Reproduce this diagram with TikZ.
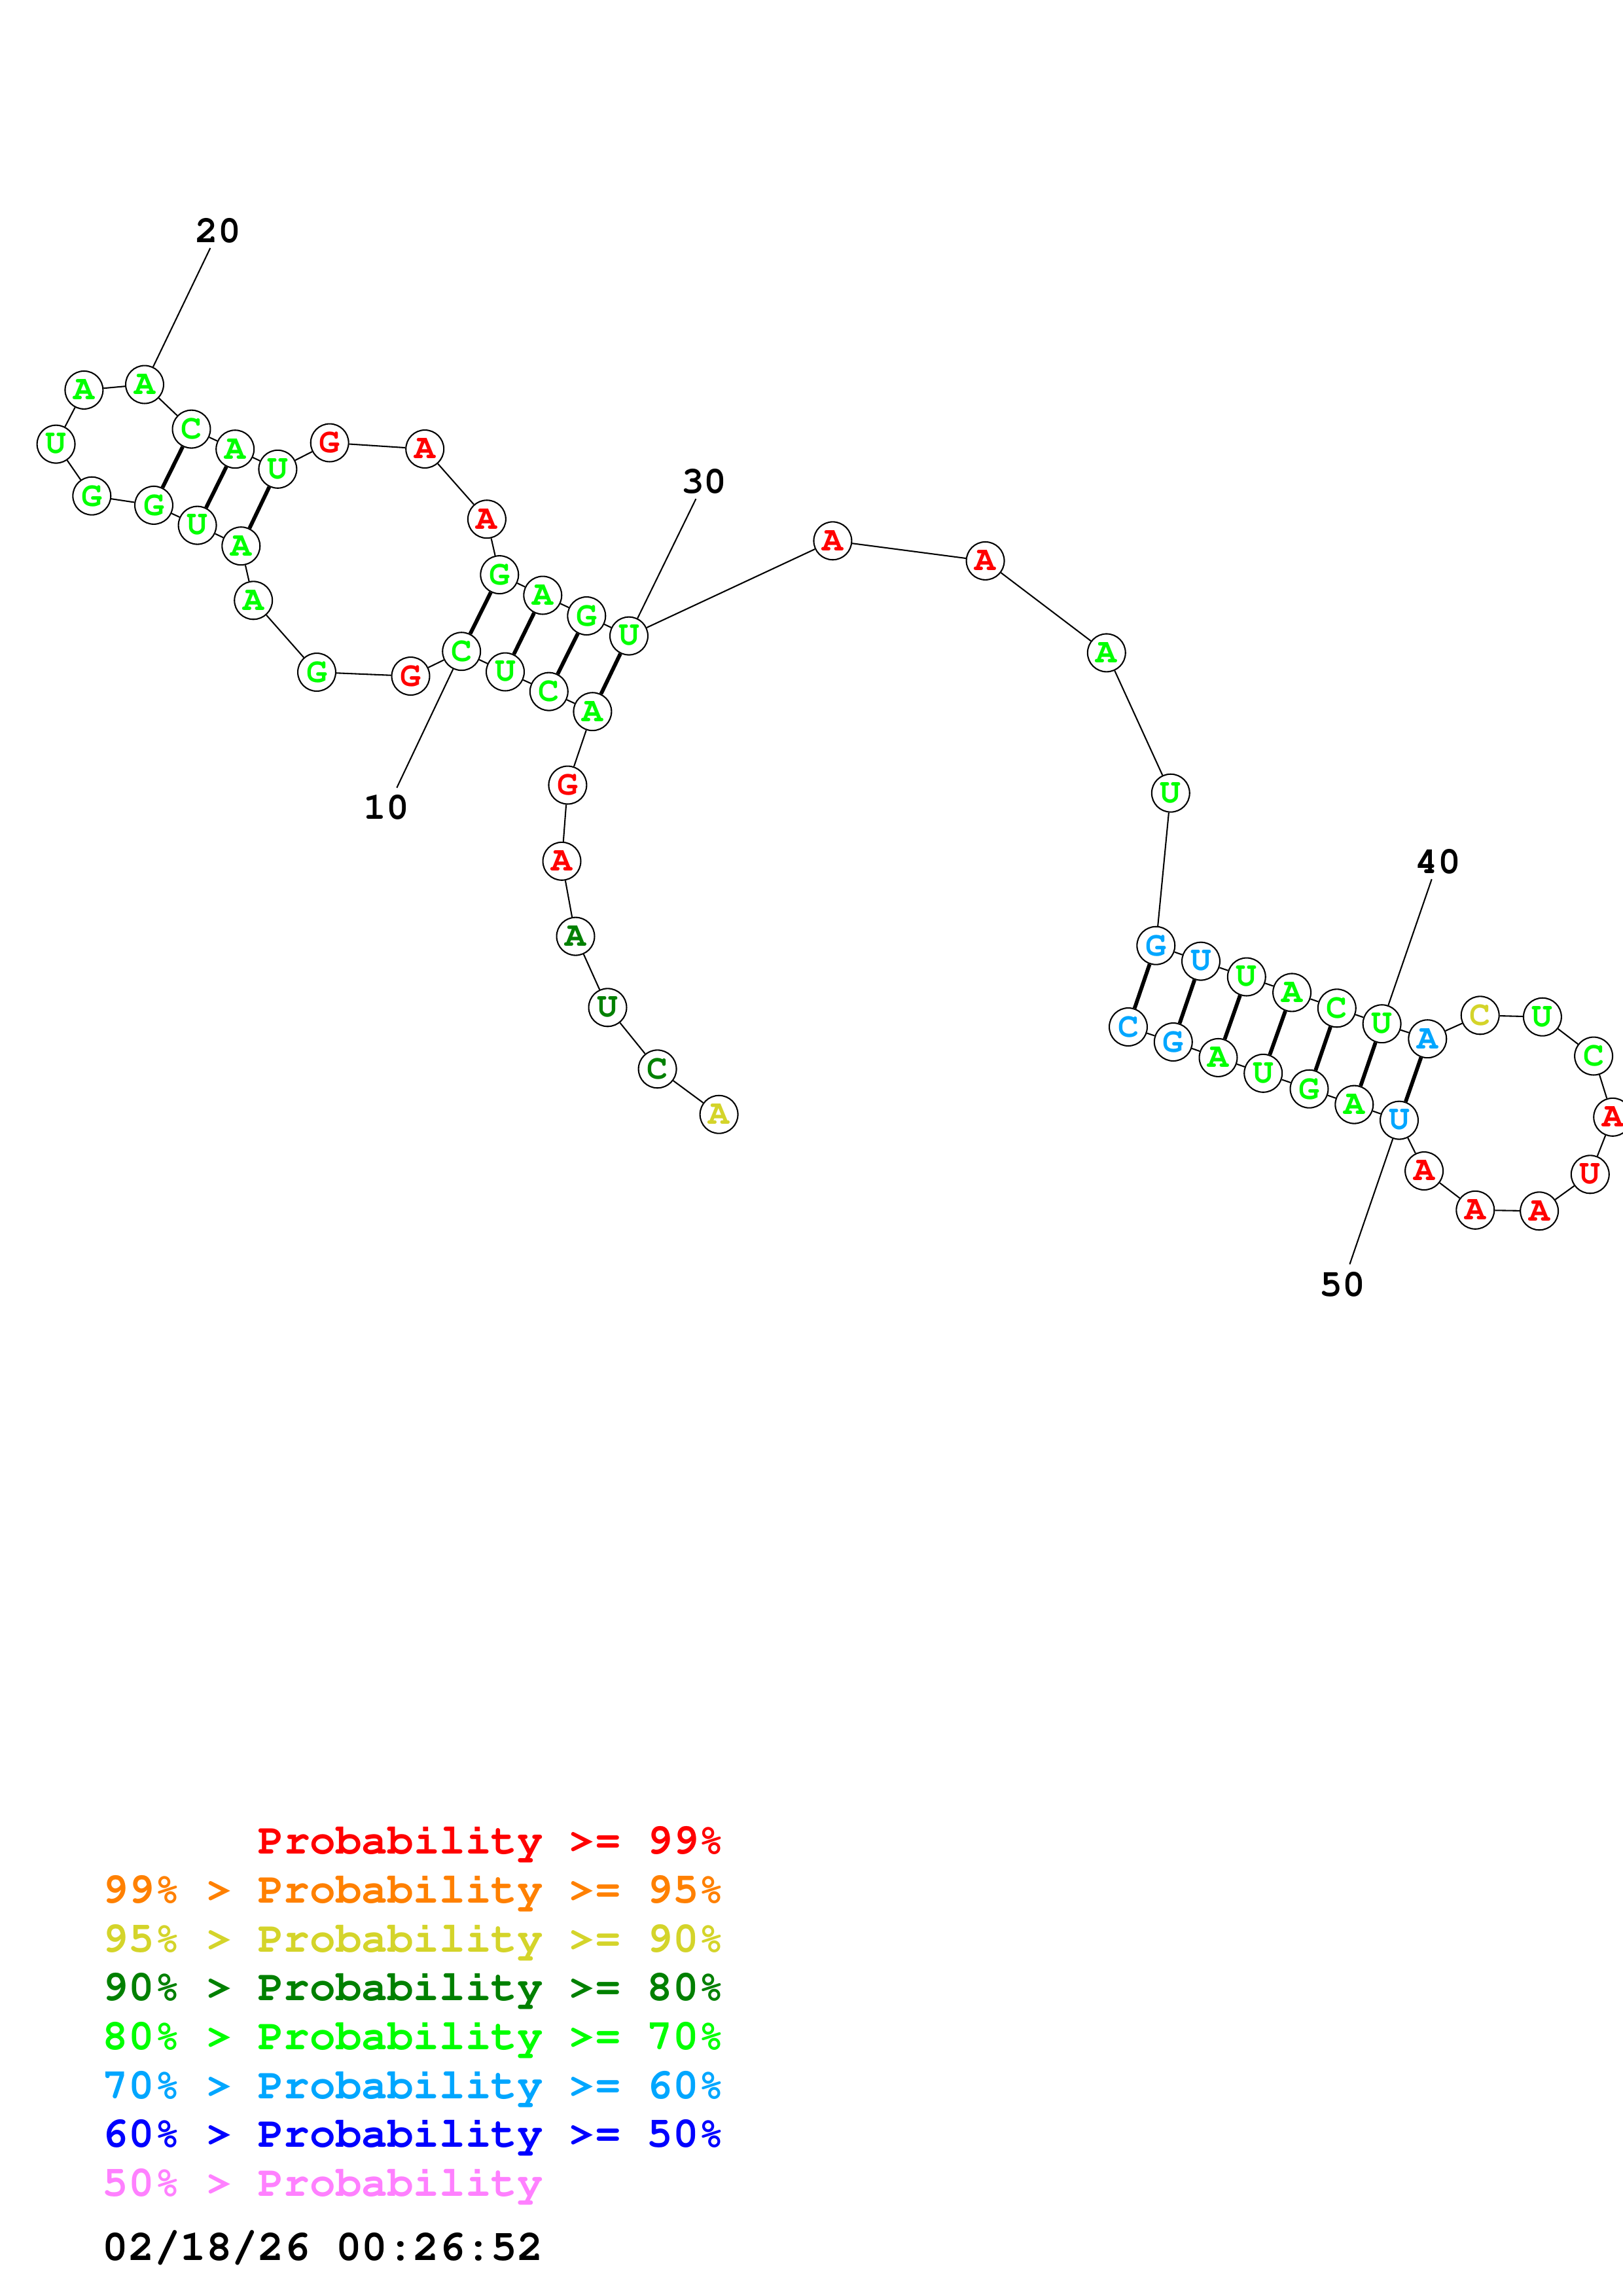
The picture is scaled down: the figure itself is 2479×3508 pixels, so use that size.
\documentclass[tikz,border=0pt]{standalone}
\usepackage[T1]{fontenc}
\renewcommand{\ttdefault}{pcr}
\definecolor{pRed}{RGB}{255,0,0}
\definecolor{pOrange}{RGB}{255,128,0}
\definecolor{pYellow}{RGB}{212,212,42}
\definecolor{pDkGreen}{RGB}{0,128,0}
\definecolor{pGreen}{RGB}{0,255,0}
\definecolor{pLtBlue}{RGB}{0,166,255}
\definecolor{pBlue}{RGB}{0,0,255}
\definecolor{pPink}{RGB}{255,128,255}
\tikzset{
  nt/.style={circle, draw, fill=white, line width=0.5bp, minimum size=13.9bp,
    inner sep=0pt, font=\ttfamily\bfseries\fontsize{12.8}{13}\selectfont},
  bb/.style={line width=0.5bp},
  pair/.style={line width=1.4bp},
  num/.style={inner sep=0pt, font=\ttfamily\bfseries\fontsize{14}{15}\selectfont},
  key/.style={anchor=base west, inner sep=0pt,
    font=\ttfamily\bfseries\fontsize{15.9}{17}\selectfont}
}

\begin{document}
\begin{tikzpicture}[x=0.24bp, y=-0.24bp]
    \useasboundingbox (0,0) rectangle (2479,3508);
    \foreach \i/\x/\y/\b/\c in {
      1/1098.6/1702.7/A/pYellow, 2/1004.6/1633.3/C/pDkGreen,
      3/928.5/1539.3/U/pDkGreen, 4/879.5/1430.6/A/pDkGreen,
      5/858.5/1315.8/A/pRed, 6/867.4/1199.5/G/pRed,
      7/905.4/1087.2/A/pGreen, 8/838.8/1056.6/C/pGreen,
      9/772/1026.5/U/pGreen, 10/705.2/995.2/C/pGreen,
      11/627.5/1033/G/pRed, 12/484/1027/G/pGreen,
      13/387.2/917.3/A/pGreen, 14/368.3/834.2/A/pGreen,
      15/301.6/802.6/U/pGreen, 16/235/771.9/G/pGreen,
      17/140.3/757.7/G/pGreen, 18/85.6/678.6/U/pGreen,
      19/128.4/595.9/A/pGreen, 20/221/587.5/A/pGreen,
      21/292.5/655.6/C/pGreen, 22/359.2/686.2/A/pGreen,
      23/424.4/716.8/U/pGreen, 24/503.7/676.5/G/pRed,
      25/649.2/686/A/pRed, 26/743.9/793.2/A/pRed,
      27/763.3/878.1/G/pGreen, 28/829.3/909.5/A/pGreen,
      29/896.3/941/G/pGreen, 30/961/971.6/U/pGreen,
      31/1272.4/826.3/A/pRed, 32/1505.6/856.9/A/pRed,
      33/1690.8/997.4/A/pGreen, 34/1788.8/1211.7/U/pGreen,
      35/1766.3/1444.7/G/pLtBlue, 36/1835/1468.6/U/pLtBlue,
      37/1904.8/1492.5/U/pGreen, 38/1974.1/1516.4/A/pGreen,
      39/2042.8/1540.3/C/pGreen, 40/2111.6/1564.2/U/pGreen,
      41/2181.3/1587.2/A/pLtBlue, 42/2261.7/1551.3/C/pYellow,
      43/2356.9/1553.7/U/pGreen, 44/2435.1/1613.5/C/pGreen,
      45/2464.2/1706.8/A/pRed, 46/2429.8/1794.3/U/pRed,
      47/2352.1/1850.3/A/pRed, 48/2254.3/1848.8/A/pRed,
      49/2176.1/1789/A/pRed, 50/2138/1711.6/U/pLtBlue,
      51/2069.3/1687.6/A/pGreen, 52/2000.5/1663.7/G/pGreen,
      53/1930.2/1639.8/U/pGreen, 54/1861.5/1615.9/A/pGreen,
      55/1792.8/1592/G/pLtBlue, 56/1724/1569/C/pLtBlue}
      \node[nt, text=\c] (n\i) at (\x,\y) {\b};
    \foreach \i [evaluate=\i as \j using int(\i+1)] in {1,...,55}
      \draw[bb] (n\i) -- (n\j);
    \foreach \a/\b in {7/30, 8/29, 9/28, 10/27, 14/23, 15/22, 16/21,
      35/56, 36/55, 37/54, 38/53, 39/52, 40/51, 41/50}
      \draw[pair] (n\a) -- (n\b);
    \foreach \k/\tx/\ty/\lx/\ly in {10/606.3/1203.6/590.6/1234.2,
      20/321.3/379/333.3/352.3, 30/1063.4/762.2/1075.9/735.7,
      40/2187.7/1343.3/2197.2/1317, 50/2062.4/1931.6/2051.8/1962.7} {
      \coordinate (t\k) at (\tx,\ty);
      \node[num] (l\k) at (\lx,\ly) {\k};
      \draw[bb] (n\k) -- (t\k);
    }
    \node[key, text=pRed] (k1) at (393.6,2832.6) {Probability >= 99\%};
    \foreach \r/\c/\t in {2/pOrange/99\% > Probability >= 95\%,
      3/pYellow/95\% > Probability >= 90\%,
      4/pDkGreen/90\% > Probability >= 80\%,
      5/pGreen/80\% > Probability >= 70\%,
      6/pLtBlue/70\% > Probability >= 60\%,
      7/pBlue/60\% > Probability >= 50\%,
      8/pPink/50\% > Probability}
      \node[key, text=\c] (k\r) at (156,2832.6+74.7*\r-74.7) {\t};
    \node[key] (date) at (156,3453) {02/18/26 00:26:52};
\end{tikzpicture}
\end{document}
